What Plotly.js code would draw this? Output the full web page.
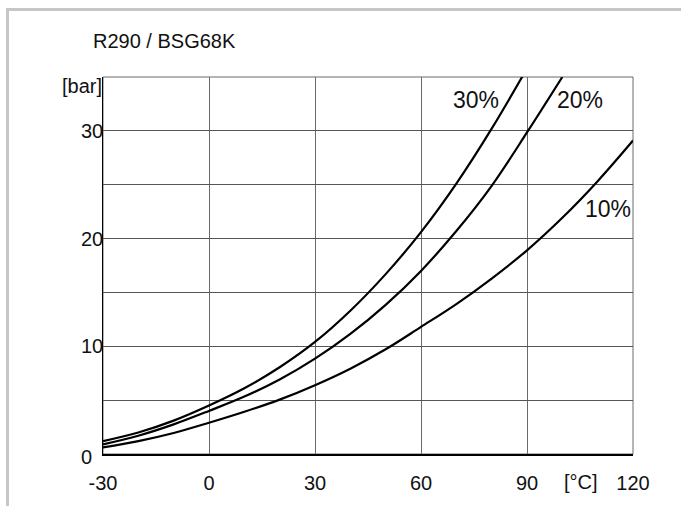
<!DOCTYPE html>
<html>
<head>
<meta charset="utf-8">
<script src="https://cdn.plot.ly/plotly-3.0.1.min.js"></script>
<style>
html,body{margin:0;padding:0;background:#fff;}
#chart{width:681px;height:506px;}
#frame{position:absolute;left:6px;top:8px;width:700px;height:520px;border-left:3px solid #c6c6c6;border-top:3px solid #c6c6c6;pointer-events:none;}
</style>
</head>
<body>
<div id="chart"></div>
<div id="frame"></div>
<script>
// Temperature [°C]
const temps = [-30, -20, -10, 0, 10, 20, 30, 40, 50, 60, 70, 80, 90, 100, 110, 120];
// Pressure [bar] per oil concentration
const p30 = [1.2, 2.0, 3.1, 4.5, 6.1, 8.05, 10.4, 13.3, 16.7, 20.6, 25.1, 30.2, 35.8];
const p20 = [0.9, 1.7, 2.75, 4.0, 5.33, 6.92, 8.85, 11.15, 13.85, 17.0, 20.7, 24.9, 29.85, 35.0];
const p10 = [0.62, 1.2, 1.95, 2.9, 3.92, 5.05, 6.39, 7.92, 9.72, 11.8, 13.92, 16.29, 18.91, 21.93, 25.33, 29.1];
const seriesNames = ['30%', '20%', '10%'];
const labelPos = [[75.5, 32.9], [105.1, 32.9], [112.8, 22.7]];

const xTicks = [-30, 0, 30, 60, 90, 120];
const xTickText = ['-30', '0', '30', '60', '90', '120'];
const yGrid = [0, 5, 10, 15, 20, 25, 30, 35];
const yLabelVals = [0, 10, 20, 30];
const yLabelText = ['0', '10', '20', '30'];

const fam = 'Liberation Sans, Arial, sans-serif';
const font = {family: fam, size: 20, color: '#111'};
const bigFont = {family: fam, size: 23, color: '#111'};
const data = [p30, p20, p10].map((p, i) => ({
  x: temps.slice(0, p.length), y: p, type: 'scatter', mode: 'lines',
  line: {color: '#000', width: 2.2, shape: 'spline', smoothing: 1},
  name: seriesNames[i], hoverinfo: 'skip'
}));

const ann = [];
seriesNames.forEach((n, i) => ann.push({x: labelPos[i][0], y: labelPos[i][1], xref: 'x', yref: 'y', text: n, showarrow: false, font: bigFont, xanchor: 'center', yanchor: 'middle'}));
yLabelVals.forEach((v, i) => ann.push({x: -0.0445, y: v, xref: 'paper', yref: 'y', text: yLabelText[i], showarrow: false, font: font, xanchor: 'left', yanchor: 'middle', yshift: v === 0 ? -3 : 0}));
ann.push({x: -0.082, y: 1.0, xref: 'paper', yref: 'paper', text: '[bar]', showarrow: false, font: font, xanchor: 'left', yanchor: 'top', yshift: 4});
ann.push({x: 105.2, y: 0, xref: 'x', yref: 'paper', text: '[°C]', showarrow: false, font: font, xanchor: 'center', yanchor: 'top', yshift: -15});
ann.push({x: -0.022, y: 1.0, xref: 'paper', yref: 'paper', text: 'R290 / BSG68K', showarrow: false, font: font, xanchor: 'left', yanchor: 'middle', yshift: 36});

const layout = {
  width: 681, height: 506,
  margin: {l: 102.5, r: 47.7, t: 77.3, b: 52, pad: 0},
  paper_bgcolor: '#fff', plot_bgcolor: '#fff',
  showlegend: false,
  font: font,
  xaxis: {range: [-30, 120], tickvals: xTicks, ticktext: xTickText, showgrid: true, gridcolor: '#6a6a6a', gridwidth: 1,
          showline: true, linecolor: '#000', linewidth: 1.5, ticks: '', zeroline: false, tickfont: font, ticklabelstandoff: 10, fixedrange: true},
  yaxis: {range: [0, 35], tickvals: yGrid, showticklabels: false, showgrid: true, gridcolor: '#555', gridwidth: 1,
          showline: true, linecolor: '#000', linewidth: 1.5, ticks: '', zeroline: false, fixedrange: true},
  shapes: [{type: 'rect', xref: 'paper', yref: 'paper', x0: 0, x1: 1, y0: 0, y1: 1, line: {color: '#6a6a6a', width: 1}, layer: 'below'}],
  annotations: ann
};
Plotly.newPlot('chart', data, layout, {displayModeBar: false, staticPlot: true});
</script>
</body>
</html>
